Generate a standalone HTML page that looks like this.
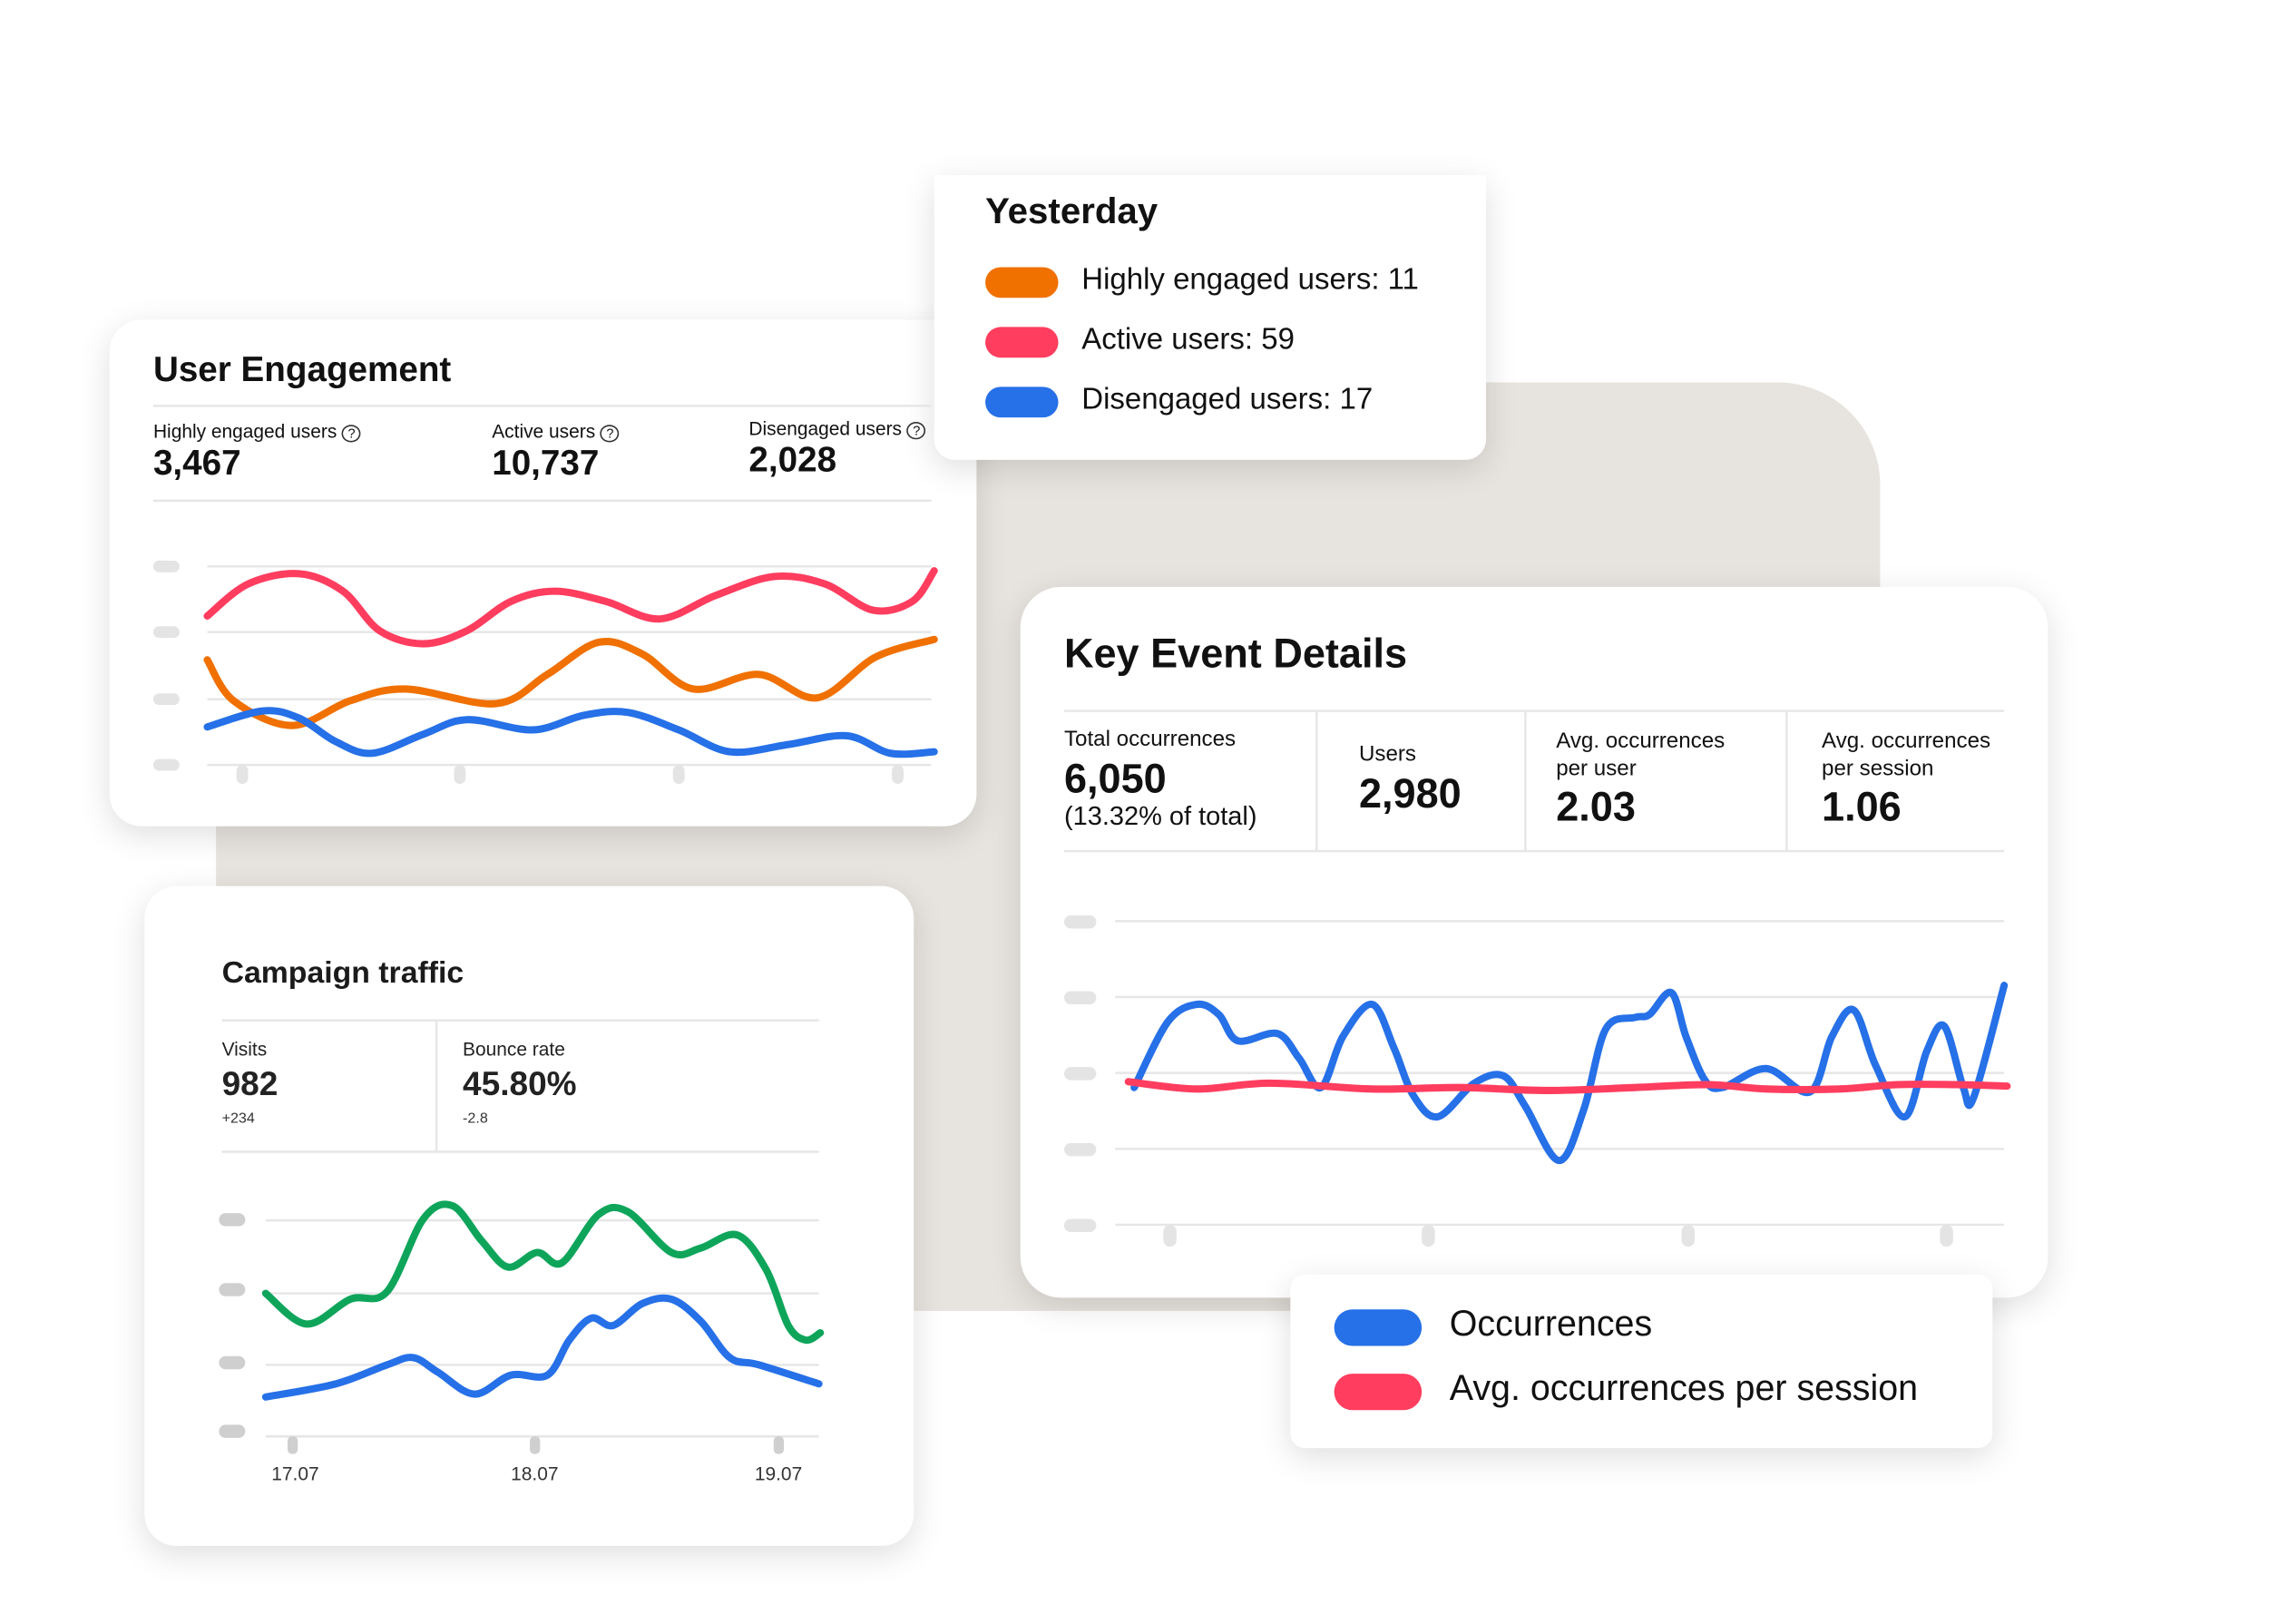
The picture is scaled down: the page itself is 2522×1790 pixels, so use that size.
<!DOCTYPE html>
<html><head><meta charset="utf-8">
<style>
html,body{margin:0;padding:0;background:#fff;}
body{width:2522px;height:1790px;overflow:hidden;position:relative;font-family:"Liberation Sans",sans-serif;color:#111;}
#w{position:absolute;left:0;top:0;width:1560px;height:1108px;transform:scale(1.609);transform-origin:0 0;}
.card{position:absolute;background:#fff;box-shadow:0 6px 22px rgba(0,0,0,0.13);}
.t{position:absolute;white-space:nowrap;}
svg{position:absolute;left:0;top:0;overflow:visible;}
</style></head><body><div id="w">
<div style="position:absolute;left:148px;top:262px;width:1140px;height:636px;background:#e7e3de;border-top-right-radius:70px;"></div>

<div class="card" style="left:75px;top:219px;width:594px;height:347px;border-radius:22px;"></div>
<div class="card" style="left:640px;top:120px;width:378px;height:195px;border-radius:0 0 14px 14px;"></div>
<div class="card" style="left:699px;top:402px;width:704px;height:487px;border-radius:28px;"></div>
<div class="card" style="left:99px;top:607px;width:527px;height:452px;border-radius:22px;"></div>
<div class="card" style="left:884px;top:873px;width:481px;height:119px;border-radius:10px;"></div>

<svg width="1560" height="1108" id="s">
<g stroke="#e6e6e6" stroke-width="1.5">
<line x1="105" y1="278" x2="638" y2="278"/><line x1="105" y1="343" x2="638" y2="343"/>
<line x1="142" y1="388" x2="638" y2="388"/><line x1="142" y1="433" x2="638" y2="433"/><line x1="142" y1="479" x2="638" y2="479"/><line x1="142" y1="524" x2="638" y2="524"/>
<line x1="729" y1="487" x2="1373" y2="487"/><line x1="729" y1="583" x2="1373" y2="583"/>
<line x1="902" y1="487" x2="902" y2="583"/><line x1="1045" y1="487" x2="1045" y2="583"/><line x1="1224" y1="487" x2="1224" y2="583"/>
<line x1="764" y1="631" x2="1373" y2="631"/><line x1="764" y1="683" x2="1373" y2="683"/><line x1="764" y1="735" x2="1373" y2="735"/><line x1="764" y1="787" x2="1373" y2="787"/><line x1="764" y1="839" x2="1373" y2="839"/>
<line x1="152" y1="699" x2="561" y2="699"/><line x1="152" y1="789" x2="561" y2="789"/><line x1="299" y1="699" x2="299" y2="789"/>
<line x1="182" y1="836" x2="561" y2="836"/><line x1="182" y1="886" x2="561" y2="886"/><line x1="182" y1="935" x2="561" y2="935"/><line x1="182" y1="984" x2="561" y2="984"/>
</g>
<g fill="#e4e4e4">
<rect x="105" y="384" width="18" height="8" rx="4"/><rect x="105" y="429" width="18" height="8" rx="4"/><rect x="105" y="475" width="18" height="8" rx="4"/><rect x="105" y="520" width="18" height="8" rx="4"/>
<rect x="162" y="524" width="8" height="13" rx="4"/><rect x="311" y="524" width="8" height="13" rx="4"/><rect x="461" y="524" width="8" height="13" rx="4"/><rect x="611" y="524" width="8" height="13" rx="4"/>
<rect x="729" y="627" width="22" height="9" rx="4.5"/><rect x="729" y="679" width="22" height="9" rx="4.5"/><rect x="729" y="731" width="22" height="9" rx="4.5"/><rect x="729" y="783" width="22" height="9" rx="4.5"/><rect x="729" y="835" width="22" height="9" rx="4.5"/>
<rect x="797" y="839" width="9" height="15" rx="4.5"/><rect x="974" y="839" width="9" height="15" rx="4.5"/><rect x="1152" y="839" width="9" height="15" rx="4.5"/><rect x="1329" y="839" width="9" height="15" rx="4.5"/>
</g>
<g fill="#cfcfcf">
<rect x="150" y="831" width="18" height="9" rx="4.5"/><rect x="150" y="879" width="18" height="9" rx="4.5"/><rect x="150" y="929" width="18" height="9" rx="4.5"/><rect x="150" y="976" width="18" height="9" rx="4.5"/>
<rect x="197" y="984" width="7" height="12" rx="3"/><rect x="363" y="984" width="7" height="12" rx="3"/><rect x="530" y="984" width="7" height="12" rx="3"/>
</g>
<g fill="none" stroke-width="5" stroke-linecap="round" stroke-linejoin="round" id="lines"></g>
<g>
<rect x="675" y="183" width="50" height="21" rx="10.5" fill="#f07000"/>
<rect x="675" y="224" width="50" height="21" rx="10.5" fill="#ff3d5f"/>
<rect x="675" y="265" width="50" height="21" rx="10.5" fill="#2670e8"/>
<rect x="914" y="897" width="60" height="25" rx="12.5" fill="#2670e8"/>
<rect x="914" y="941" width="60" height="25" rx="12.5" fill="#ff3d5f"/>
</g>
</svg>

<div class="t" style="left:105px;top:240px;font-size:24px;font-weight:bold;">User Engagement</div>
<div class="t" style="left:105px;top:288px;font-size:13px;">Highly engaged users <span style="border:1px solid #333;border-radius:50%;font-size:9px;padding:0 3px;">?</span></div>
<div class="t" style="left:337px;top:288px;font-size:13px;">Active users <span style="border:1px solid #333;border-radius:50%;font-size:9px;padding:0 3px;">?</span></div>
<div class="t" style="left:513px;top:286px;font-size:13px;">Disengaged users <span style="border:1px solid #333;border-radius:50%;font-size:9px;padding:0 3px;">?</span></div>
<div class="t" style="left:105px;top:304px;font-size:24px;font-weight:bold;">3,467</div>
<div class="t" style="left:337px;top:304px;font-size:24px;font-weight:bold;">10,737</div>
<div class="t" style="left:513px;top:302px;font-size:24px;font-weight:bold;">2,028</div>

<div class="t" style="left:675px;top:131px;font-size:25px;font-weight:bold;">Yesterday</div>
<div class="t" style="left:741px;top:180px;font-size:20.5px;">Highly engaged users: 11</div>
<div class="t" style="left:741px;top:221px;font-size:20.5px;">Active users: 59</div>
<div class="t" style="left:741px;top:262px;font-size:20.5px;">Disengaged users: 17</div>

<div class="t" style="left:729px;top:432px;font-size:28px;font-weight:bold;">Key Event Details</div>
<div class="t" style="left:729px;top:498px;font-size:15px;">Total occurrences</div>
<div class="t" style="left:729px;top:518px;font-size:28px;font-weight:bold;">6,050</div>
<div class="t" style="left:729px;top:549px;font-size:18px;">(13.32% of total)</div>
<div class="t" style="left:931px;top:508px;font-size:15px;">Users</div>
<div class="t" style="left:931px;top:528px;font-size:28px;font-weight:bold;">2,980</div>
<div class="t" style="left:1066px;top:498px;font-size:15px;line-height:19px;">Avg. occurrences<br>per user</div>
<div class="t" style="left:1066px;top:537px;font-size:28px;font-weight:bold;">2.03</div>
<div class="t" style="left:1248px;top:498px;font-size:15px;line-height:19px;">Avg. occurrences<br>per session</div>
<div class="t" style="left:1248px;top:537px;font-size:28px;font-weight:bold;">1.06</div>

<div class="t" style="left:993px;top:894px;font-size:24.5px;">Occurrences</div>
<div class="t" style="left:993px;top:938px;font-size:24.5px;">Avg. occurrences per session</div>

<div class="t" style="left:152px;top:655px;font-size:21px;font-weight:bold;color:#1b1b1b;">Campaign traffic</div>
<div class="t" style="left:152px;top:711px;font-size:13px;color:#222;">Visits</div>
<div class="t" style="left:152px;top:729px;font-size:23px;font-weight:bold;color:#222;">982</div>
<div class="t" style="left:152px;top:761px;font-size:10px;color:#333;">+234</div>
<div class="t" style="left:317px;top:711px;font-size:13px;color:#222;">Bounce rate</div>
<div class="t" style="left:317px;top:729px;font-size:23px;font-weight:bold;color:#222;">45.80%</div>
<div class="t" style="left:317px;top:761px;font-size:10px;color:#333;">-2.8</div>
<div class="t" style="left:186px;top:1002px;font-size:13px;color:#333;">17.07</div>
<div class="t" style="left:350px;top:1002px;font-size:13px;color:#333;">18.07</div>
<div class="t" style="left:517px;top:1002px;font-size:13px;color:#333;">19.07</div>
</div>
<script>
function cr(p){var d="M"+p[0][0]+" "+p[0][1];for(var i=0;i<p.length-1;i++){var a=p[i-1]||p[i],b=p[i],c=p[i+1],e=p[i+2]||c;d+=" C"+(b[0]+(c[0]-a[0])/6)+" "+(b[1]+(c[1]-a[1])/6)+" "+(c[0]-(e[0]-b[0])/6)+" "+(c[1]-(e[1]-b[1])/6)+" "+c[0]+" "+c[1];}return d;}
var L=[
["#ff3d5f",[[142,422],[170,400],[205,393],[235,405],[260,432],[290,441],[320,432],[350,412],[380,405],[415,412],[452,424],[490,408],[530,395],[565,400],[598,418],[625,412],[640,391]]],
["#f07000",[[142,452],[160,480],[200,497],[240,480],[278,472],[340,482],[375,462],[410,440],[440,448],[475,472],[520,462],[560,478],[600,450],[640,438]]],
["#2670e8",[[142,498],[180,487],[205,492],[230,508],[255,516],[290,503],[320,493],[365,500],[400,490],[430,488],[465,500],[500,515],[540,510],[580,504],[610,516],[640,515]]],
["#2670e8",[[777,745],[800,700],[820,688],[835,695],[848,713],[875,708],[890,725],[905,745],[920,710],[940,688],[955,718],[968,750],[985,765],[1010,742],[1030,737],[1045,758],[1068,795],[1085,760],[1100,705],[1120,697],[1130,695],[1145,680],[1155,710],[1168,740],[1180,745],[1210,732],[1240,748],[1255,710],[1270,692],[1285,730],[1305,765],[1320,720],[1332,703],[1345,745],[1352,752],[1373,675]]],
["#ff3d5f",[[773,741],[820,746],[870,742],[940,746],[1000,745],[1060,747],[1120,745],[1170,743],[1210,746],[1260,746],[1300,743],[1340,743],[1375,744]]],
["#0ea55a",[[182,886],[210,907],[240,890],[265,885],[290,835],[310,826],[330,850],[348,868],[368,858],[385,865],[410,832],[430,830],[460,858],[480,855],[505,846],[525,870],[540,908],[552,918],[562,913]]],
["#2670e8",[[182,957],[230,948],[265,935],[283,930],[300,940],[325,955],[350,942],[375,942],[390,918],[405,903],[420,908],[440,893],[460,890],[480,905],[500,930],[520,935],[561,948]]]
];
var g=document.getElementById("lines"),h="";
L.forEach(function(l){h+='<path d="'+cr(l[1])+'" stroke="'+l[0]+'"/>';});
g.innerHTML=h;
</script>
</body></html>
